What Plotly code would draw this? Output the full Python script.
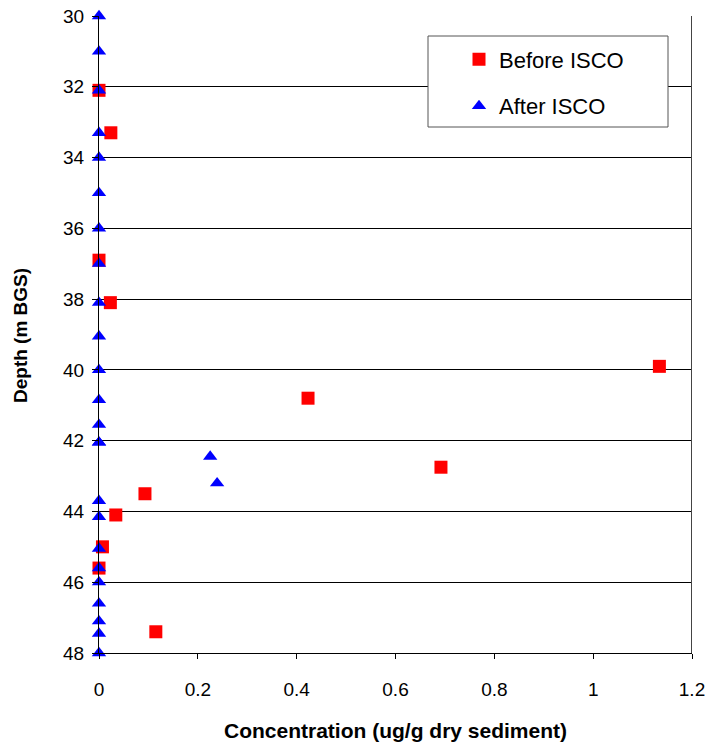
import plotly.graph_objects as go

# Before ISCO (concentration, depth)
before_conc = [0.0, 0.024, 0.0, 0.023, 1.134, 0.423, 0.692, 0.093, 0.034, 0.007, 0.0, 0.115]
before_depth = [32.1, 33.3, 36.9, 38.1, 39.9, 40.8, 42.75, 43.5, 44.1, 45.0, 45.6, 47.4]

# After ISCO
after_conc = [0.0, 0.0, 0.0, 0.0, 0.0, 0.0, 0.0, 0.0, 0.0, 0.0, 0.0, 0.0, 0.0, 0.0, 0.0,
              0.225, 0.239, 0.0, 0.0, 0.0, 0.0, 0.0, 0.0, 0.0, 0.0, 0.0]
after_depth = [30.0, 31.0, 32.1, 33.3, 34.0, 35.0, 36.0, 37.0, 38.1, 39.05, 40.0, 40.85,
               41.55, 42.05, 42.05, 42.45, 43.2, 43.7, 44.15, 45.05, 45.6, 46.0, 46.6,
               47.1, 47.45, 48.0]

x_ticks = [0, 0.2, 0.4, 0.6, 0.8, 1, 1.2]
x_ticklabels = ["0", "0.2", "0.4", "0.6", "0.8", "1", "1.2"]
y_ticks = [30, 32, 34, 36, 38, 40, 42, 44, 46, 48]

FONT = "Liberation Sans, Arial, sans-serif"

W, H = 706, 748
PL, PR, PT, PB = 99, 692, 16, 653  # plot area in screen pixels
ML, MR, MT, MB = PL, W - PR, PT, H - PB
PW, PH = PR - PL, PB - PT


def px_x(sx):
    return (sx - PL) / PW


def px_y(sy):
    return (PB - sy) / PH


fig = go.Figure()
fig.add_trace(go.Scatter(
    x=before_conc, y=before_depth, mode="markers", name="Before ISCO",
    legendgroup="b",
    marker=dict(symbol="square", size=13, color="#ff0000", line=dict(width=0)),
    cliponaxis=False,
))
fig.add_trace(go.Scatter(
    x=after_conc, y=after_depth, mode="markers", name="After ISCO",
    legendgroup="a",
    marker=dict(symbol="triangle-up", size=12.5, color="#0000ff", line=dict(width=0)),
    cliponaxis=False,
))

# right frame line
fig.add_shape(type="line", xref="x", yref="paper", x0=1.2, x1=1.2, y0=0, y1=1,
              line=dict(color="#444444", width=2))
# legend box
fig.add_shape(type="rect", xref="paper", yref="paper",
              x0=px_x(428), x1=px_x(668), y0=px_y(127), y1=px_y(36),
              fillcolor="white", line=dict(color="#555555", width=1), layer="above")

fig.add_annotation(text="<b>Concentration (ug/g dry sediment)</b>",
                   xref="paper", yref="paper", x=0.5, y=px_y(730),
                   xanchor="center", yanchor="middle", showarrow=False,
                   font=dict(family=FONT, size=21, color="black"))
fig.add_annotation(text="<b>Depth (m BGS)</b>", textangle=-90,
                   xref="paper", yref="paper", x=px_x(20), y=px_y(336),
                   xanchor="center", yanchor="middle", showarrow=False,
                   font=dict(family=FONT, size=19, color="black"))

fig.update_layout(
    width=W, height=H,
    margin=dict(l=ML, r=MR, t=MT, b=MB),
    paper_bgcolor="white", plot_bgcolor="white",
    font=dict(family=FONT, size=18, color="black"),
    showlegend=True,
    legend=dict(
        x=px_x(459), y=px_y(38.5), xanchor="left", yanchor="top",
        bgcolor="rgba(0,0,0,0)", borderwidth=0,
        font=dict(family=FONT, size=22, color="black"),
        tracegroupgap=15,
        itemsizing="trace",
    ),
    xaxis=dict(
        range=[0, 1.2], tickvals=x_ticks, ticktext=x_ticklabels,
        showgrid=False, zeroline=False, automargin=False,
        showline=True, linecolor="black", linewidth=1,
        ticks="outside", ticklen=5, tickcolor="black",
        ticklabelstandoff=14, ticklabeloverflow="allow",
        tickfont=dict(family=FONT, size=19),
    ),
    yaxis=dict(
        range=[48, 30], tickvals=y_ticks,
        showgrid=True, gridcolor="black", gridwidth=1,
        zeroline=False, automargin=False,
        showline=True, linecolor="black", linewidth=1,
        ticks="outside", ticklen=6, tickcolor="black",
        ticklabelstandoff=4, ticklabeloverflow="allow",
        tickfont=dict(family=FONT, size=19),
    ),
)

fig.write_html(
    "out.html",
    config={"displayModeBar": False},
    post_script="document.body.style.margin='0';document.body.style.overflow='hidden';",
)
